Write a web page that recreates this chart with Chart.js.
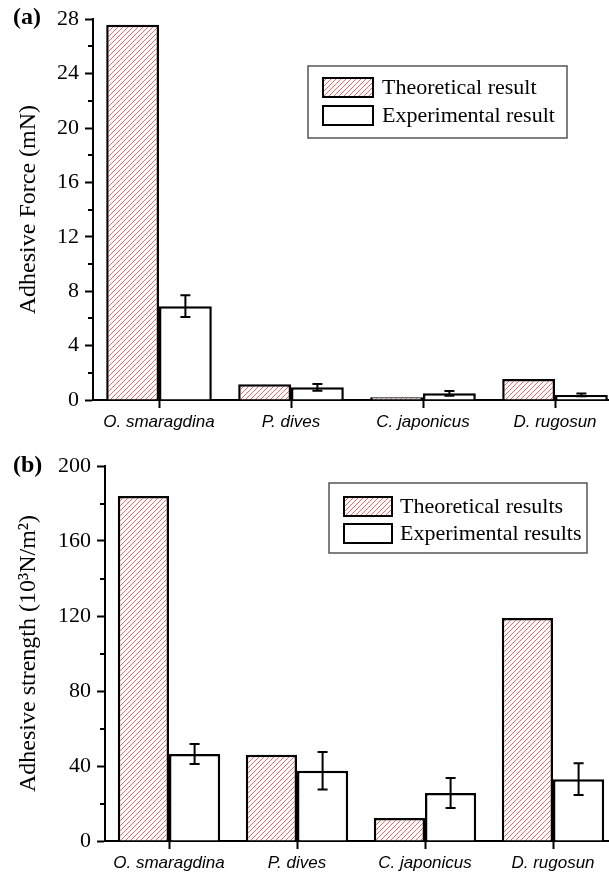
<!DOCTYPE html>
<html>
<head>
<meta charset="utf-8">
<script src="https://cdn.jsdelivr.net/npm/chart.js@4.4.1/dist/chart.umd.min.js"></script>
<style>
 html,body{margin:0;padding:0;background:#fff;overflow:hidden;width:609px;height:873px}
 canvas{display:block}
</style>
</head>
<body>
<canvas id="forceChart" width="621" height="436"></canvas>
<canvas id="strengthChart" width="617" height="437"></canvas>
<script>
const categories=['O. smaragdina','P. dives','C. japonicus','D. rugosun'];

// (a) adhesive force, mN
const forceTheory=[27.6,1.15,0.2,1.55];
const forceExp=[6.9,0.93,0.49,0.37];
const forceErr=[0.8,0.25,0.18,0.1];

// (b) adhesive strength, 10^3 N/m^2
const strengthTheory=[184,46,12.3,119];
const strengthExp=[46.4,37.5,25.6,33];
const strengthErr=[5.3,10,8,8.5];

const serif='"Liberation Serif","Times New Roman",serif';
const sans='"Liberation Sans",Arial,sans-serif';

function hatch(ctx){
 const c=document.createElement('canvas');
 c.width=5;c.height=5;
 const g=c.getContext('2d');
 g.fillStyle='#fff';g.fillRect(0,0,5,5);
 g.strokeStyle='#ff6464';g.lineWidth=1;
 g.beginPath();
 g.moveTo(-1,6);g.lineTo(6,-1);
 g.moveTo(-1,1);g.lineTo(1,-1);
 g.moveTo(4,6);g.lineTo(6,4);
 g.stroke();
 return ctx.createPattern(c,'repeat');
}

// minor ticks, error bars, inset legend and panel letter
const extras={
 id:'extras',
 afterDraw(chart,args,o){
  const ctx=chart.ctx,y=chart.scales.y,area=chart.chartArea;
  ctx.save();
  ctx.strokeStyle='#000';ctx.lineWidth=2;
  for(let v=o.step/2;v<y.max;v+=o.step){
   const py=Math.round(y.getPixelForValue(v));
   ctx.beginPath();ctx.moveTo(area.left-5,py);ctx.lineTo(area.left,py);ctx.stroke();
  }
  const ds=chart.data.datasets[1];
  chart.getDatasetMeta(1).data.forEach((bar,i)=>{
   const v=ds.data[i],e=o.err[i];
   const t=y.getPixelForValue(v+e),b=y.getPixelForValue(v-e);
   ctx.beginPath();
   ctx.moveTo(bar.x,t);ctx.lineTo(bar.x,b);
   ctx.moveTo(bar.x-5,t);ctx.lineTo(bar.x+5,t);
   ctx.moveTo(bar.x-5,b);ctx.lineTo(bar.x+5,b);
   ctx.stroke();
  });
  // legend
  const L=o.legend;
  ctx.strokeStyle='#555';ctx.lineWidth=1.5;
  ctx.strokeRect(L.box[0],L.box[1],L.box[2],L.box[3]);
  ctx.font='22px '+serif;ctx.textBaseline='middle';ctx.textAlign='left';
  chart.data.datasets.forEach((d,i)=>{
   const [sx,sy]=L.rows[i];
   ctx.fillStyle=d.backgroundColor;
   ctx.fillRect(sx,sy,L.sw,L.sh);
   ctx.strokeStyle='#000';ctx.lineWidth=2;
   ctx.strokeRect(sx,sy,L.sw,L.sh);
   ctx.fillStyle='#000';
   ctx.fillText(d.label,L.textX,sy+L.sh/2+1);
  });
  ctx.font='bold 24px '+serif;
  ctx.fillText(o.letter[0],o.letter[1],o.letter[2]);
  ctx.restore();
 }
};

function makeChart(id,cfg){
 const el=document.getElementById(id);
 const pattern=hatch(el.getContext('2d'));
 return new Chart(el,{
  type:'bar',
  data:{labels:categories,datasets:[
   {label:cfg.names[0],data:cfg.theory,backgroundColor:pattern,borderColor:'#000',borderWidth:2.5,categoryPercentage:0.8,barPercentage:1},
   {label:cfg.names[1],data:cfg.exp,backgroundColor:'#fff',borderColor:'#000',borderWidth:2.5,categoryPercentage:0.8,barPercentage:1}
  ]},
  options:{
   responsive:false,animation:false,
   layout:{padding:{top:cfg.top,left:0,right:0,bottom:0}},
   plugins:{
    legend:{display:false},tooltip:{enabled:false},
    extras:{step:cfg.step,err:cfg.err,legend:cfg.legend,letter:cfg.letter}
   },
   scales:{
    x:{
     grid:{drawOnChartArea:false,offset:false,tickLength:8,tickWidth:2,tickColor:'#000'},
     border:{color:'#000',width:2},
     ticks:{color:'#000',font:{family:sans,style:'italic',size:17},padding:4,maxRotation:0,autoSkip:false},
     afterFit(s){s.height=cfg.xh;}
    },
    y:{
     min:0,max:cfg.max,
     ticks:{stepSize:cfg.step,color:'#000',font:{family:serif,size:22},padding:6},
     grid:{drawOnChartArea:false,tickLength:8,tickWidth:2,tickColor:'#000'},
     border:{color:'#000',width:2},
     title:{display:true,text:cfg.title,color:'#000',font:{family:serif,size:24},padding:{top:14}},
     afterFit(s){s.width=cfg.left;}
    }
   }
  },
  plugins:[extras]
 });
}

makeChart('forceChart',{
 theory:forceTheory,exp:forceExp,err:forceErr,
 names:['Theoretical result','Experimental result'],
 title:'Adhesive Force (mN)',max:28,step:4,
 top:17,left:93,xh:36,
 legend:{box:[308,66,259,72],rows:[[323,78],[323,106]],sw:50,sh:19,textX:382},
 letter:['(a)',13,18]
});

makeChart('strengthChart',{
 theory:strengthTheory,exp:strengthExp,err:strengthErr,
 names:['Theoretical results','Experimental results'],
 title:'Adhesive strength (10³N/m²)',max:200,step:40,
 top:30,left:105,xh:32,
 legend:{box:[329,47,258,70],rows:[[344,61],[344,88]],sw:48,sh:19,textX:400},
 letter:['(b)',13,30]
});
</script>
</body>
</html>
